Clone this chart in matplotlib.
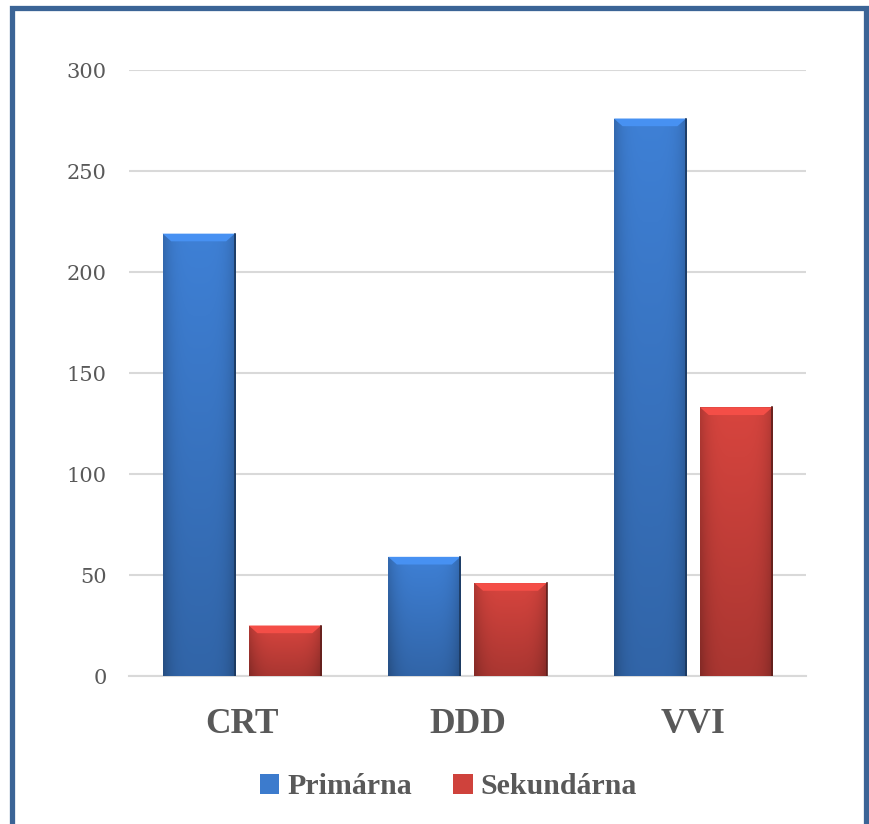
import numpy as np
import matplotlib.pyplot as plt
from matplotlib.patches import Rectangle, Polygon
from matplotlib.colors import to_rgb

# ===== DADOS =====
categorias = ["CRT", "DDD", "VVI"]
primarna = [219, 59, 276]
sekundarna = [25, 46, 133]
series_nomes = ["Primárna", "Sekundárna"]
y_ticks = [0, 50, 100, 150, 200, 250, 300]

COR_AZUL = "#3C7BCD"
COR_VERM = "#CF423C"
COR_TEXTO = "#595959"
FONTE = ["Liberation Serif", "DejaVu Serif"]


def gradiente(ax, barra, cor):
    # preenche a barra com um degradê simples (efeito bisel)
    x0, y0 = barra.get_x(), barra.get_y()
    w, h = barra.get_width(), barra.get_height()
    base = np.array(to_rgb(cor))
    ny, nx = 60, 40
    yy = np.linspace(1, 0, ny)[:, None]
    xx = np.linspace(-1, 1, nx)[None, :]
    luz = 0.82 + 0.22 * yy - 0.18 * np.abs(xx) ** 4
    img = np.clip(base[None, None, :] * luz[:, :, None], 0, 1)
    im = ax.imshow(img, extent=(x0, x0 + w, y0, y0 + h), aspect="auto",
                   zorder=3, interpolation="bilinear")
    im.set_clip_path(barra)
    # face clara no topo (trapézio)
    topo = min(h * 0.5, 3.8)
    dx = w * 0.12
    ax.add_patch(Polygon([(x0, y0 + h), (x0 + w, y0 + h),
                          (x0 + w - dx, y0 + h - topo), (x0 + dx, y0 + h - topo)],
                         closed=True, color=np.clip(base * 1.18, 0, 1), lw=0, zorder=4))
    ax.plot([x0 + w, x0 + w], [y0, y0 + h], color=base * 0.45, lw=1.2, zorder=5)


def main():
    fig = plt.figure(figsize=(8.69, 8.24), dpi=100)
    ax = fig.add_axes([0.1484, 0.1796, 0.779, 0.7354])

    x = np.arange(len(categorias))
    largura = 0.32
    gap = 0.062
    b1 = ax.bar(x - (largura + gap) / 2, primarna, largura, color=COR_AZUL,
                edgecolor="none", zorder=3, label=series_nomes[0])
    b2 = ax.bar(x + (largura + gap) / 2, sekundarna, largura, color=COR_VERM,
                edgecolor="none", zorder=3, label=series_nomes[1])
    for barras, cor in [(b1, COR_AZUL), (b2, COR_VERM)]:
        for b in barras:
            gradiente(ax, b, cor)

    ax.set_xlim(-0.5, len(categorias) - 0.5)
    ax.set_ylim(0, 300)
    ax.set_yticks(y_ticks)
    ax.set_yticklabels([str(v) for v in y_ticks], fontsize=15,
                       color=COR_TEXTO, family=["DejaVu Serif"])
    ax.set_xticks(x)
    ax.set_xticklabels(categorias, fontsize=25.5, fontweight="bold",
                       color=COR_TEXTO, family=FONTE)
    ax.tick_params(axis="both", length=0)
    ax.tick_params(axis="y", pad=16)
    ax.tick_params(axis="x", pad=23)
    ax.grid(axis="y", color="#D9D9D9", linewidth=1.5, zorder=0)
    ax.set_axisbelow(True)
    for s in ["top", "right", "left"]:
        ax.spines[s].set_visible(False)
    ax.spines["bottom"].set_color("#D9D9D9")
    ax.spines["bottom"].set_linewidth(1.5)

    leg = fig.legend(handles=[b1, b2], labels=series_nomes, loc="center",
                     bbox_to_anchor=(0.516, 0.045), ncol=2, frameon=False,
                     handlelength=0.65, handleheight=0.65, handletextpad=0.25,
                     columnspacing=1.4,
                     prop={"family": FONTE, "weight": "bold", "size": 21.5})
    for t in leg.get_texts():
        t.set_color(COR_TEXTO)

    # moldura azul
    fig.patches.append(Rectangle((12 / 869, -0.1), 854 / 869, 1.09,
                                 transform=fig.transFigure, fill=False,
                                 edgecolor="#3B6496", linewidth=3.8))

    fig.savefig("out.png", dpi=100)
    plt.close(fig)


if __name__ == "__main__":
    main()
